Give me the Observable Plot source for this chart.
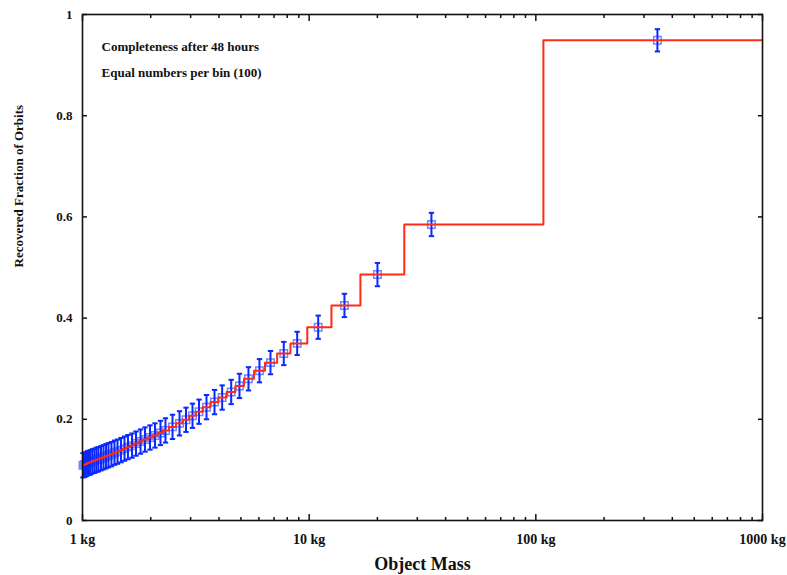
<!DOCTYPE html>
<html><head><meta charset="utf-8">
<script src="https://cdn.jsdelivr.net/npm/d3@7"></script>
<script src="https://cdn.jsdelivr.net/npm/@observablehq/plot@0.6"></script>
<style>body{margin:0;background:#fff}</style>
</head><body><div id="chart"></div>
<script>
// Bin mean masses (kg) where the points sit
const pointMass = [1.005,1.020,1.036,1.052,1.068,1.085,1.107,1.130,1.153,1.176,
  1.207,1.238,1.270,1.302,1.342,1.384,1.427,1.478,1.532,1.587,
  1.654,1.722,1.803,1.887,1.985,2.088,2.208,2.323,2.495,2.679,
  2.862,3.057,3.266,3.524,3.823,4.132,4.529,4.926,5.398,6.036,
  6.751,7.726,8.853,10.96,14.31,20.01,34.63,343.9];
// Recovered fraction per bin
const pointValue = [0.109,0.110,0.111,0.113,0.114,0.115,0.117,0.118,0.120,0.121,
  0.123,0.125,0.127,0.129,0.131,0.134,0.136,0.139,0.142,0.145,
  0.148,0.152,0.156,0.160,0.164,0.168,0.173,0.178,0.185,0.192,
  0.199,0.207,0.215,0.224,0.234,0.243,0.254,0.266,0.280,0.296,
  0.312,0.330,0.350,0.382,0.425,0.486,0.585,0.949];
// Error bar half-lengths
const pointError = [0.024,0.024,0.024,0.024,0.024,0.024,0.024,0.024,0.024,0.024,
  0.024,0.024,0.024,0.024,0.024,0.024,0.024,0.024,0.024,0.024,
  0.024,0.024,0.024,0.024,0.024,0.024,0.024,0.024,0.024,0.024,
  0.024,0.024,0.024,0.024,0.024,0.024,0.024,0.024,0.023,0.023,
  0.023,0.023,0.023,0.023,0.023,0.023,0.023,0.022];
// Bin edges (kg): lower edge of each bin, then the final upper edge
const binEdges = [1,1.0128,1.0283,1.0441,1.0601,1.0764,1.0957,1.1182,1.1411,1.1646,1.1915,
  1.2222,1.2536,1.2858,1.3222,1.3632,1.4054,1.4526,1.5051,1.5596,1.6200,
  1.6871,1.7618,1.8442,1.9355,2.0362,2.1476,2.2651,2.4074,2.5853,2.7684,
  2.9581,3.1596,3.3912,3.6697,3.9762,4.3255,4.7258,5.1583,5.7080,6.3830,
  7.22,8.27,9.81,12.54,16.83,26.28,108.0,1000];

const xMajorTicks = [1,10,100,1000];
const xTickLabels = ["1 kg","10 kg","100 kg","1000 kg"];
const xMinorTicks = [2,3,4,5,6,7,8,9,20,30,40,50,60,70,80,90,200,300,400,500,600,700,800,900];
const yTicks = [0,0.2,0.4,0.6,0.8,1];
const yTickLabels = ["0","0.2","0.4","0.6","0.8","1"];
const notes = ["Completeness after 48 hours","Equal numbers per bin (100)"];
const xTitle = "Object Mass";
const yTitle = "Recovered Fraction of Orbits";

const points = pointMass.map((m,i)=>({m, v: pointValue[i], lo: pointValue[i]-pointError[i], hi: pointValue[i]+pointError[i]}));
const steps = binEdges.map((m,i)=>({m, v: pointValue[Math.min(i, pointValue.length-1)]}));
const caps = points.flatMap(p=>[{m:p.m, v:p.lo},{m:p.m, v:p.hi}]);

const capSymbol = {draw(ctx, size){const w = Math.sqrt(size)/2; ctx.moveTo(-w,0); ctx.lineTo(w,0);}};

const blue = "#0a28ff";
const chart = Plot.plot({
  width: 787, height: 575,
  marginLeft: 82, marginRight: 25, marginTop: 14, marginBottom: 55,
  style: {fontFamily: "'Liberation Serif', 'DejaVu Serif', serif", fontWeight: "bold", background: "#fff"},
  x: {type: "log", domain: [1, 1000]},
  y: {domain: [0, 1]},
  marks: [
    Plot.dot(points, {x: "m", y: "v", symbol: "square", r: 4.2, stroke: "#6f88ff", strokeWidth: 1.5, fill: "none"}),
    Plot.ruleX(points, {x: "m", y1: "lo", y2: "hi", stroke: blue, strokeWidth: 2}),
    Plot.dot(caps, {x: "m", y: "v", symbol: capSymbol, r: 3.0, stroke: blue, strokeWidth: 2, fill: "none"}),
    Plot.line(steps, {x: "m", y: "v", curve: "step-after", stroke: "#ff2a18", strokeWidth: 2}),
    Plot.frame({stroke: "#111", strokeWidth: 1.6}),
    // tick labels
    Plot.axisY({anchor: "left", ticks: yTicks, tickSize: 0, tickPadding: 10, tickFormat: d=>yTickLabels[yTicks.indexOf(d)], fontSize: 13, color: "#111", label: null}),
    Plot.axisX({anchor: "bottom", ticks: xMajorTicks, tickSize: 0, tickPadding: 14, tickFormat: d=>xTickLabels[xMajorTicks.indexOf(d)], fontSize: 14, color: "#111", label: null}),
    // inward ticks
    Plot.axisY({anchor: "left", ticks: yTicks, tickSize: 5, dx: 5, tickFormat: ()=>"", color: "#111", strokeWidth: 1.5, label: null}),
    Plot.axisY({anchor: "right", ticks: yTicks, tickSize: 5, dx: -5, tickFormat: ()=>"", color: "#111", strokeWidth: 1.5, label: null}),
    Plot.axisX({anchor: "bottom", ticks: xMajorTicks, tickSize: 6, dy: -6, tickFormat: ()=>"", color: "#111", strokeWidth: 1.5, label: null}),
    Plot.axisX({anchor: "bottom", ticks: xMinorTicks, tickSize: 3, dy: -3, tickFormat: ()=>"", color: "#111", strokeWidth: 1.5, label: null}),
    Plot.axisX({anchor: "top", ticks: xMajorTicks, tickSize: 6, dy: 6, tickFormat: ()=>"", color: "#111", strokeWidth: 1.5, label: null}),
    Plot.axisX({anchor: "top", ticks: xMinorTicks, tickSize: 3, dy: 3, tickFormat: ()=>"", color: "#111", strokeWidth: 1.5, label: null}),
    // annotations
    Plot.text([notes[0]], {frameAnchor: "top-left", dx: 19, dy: 27, textAnchor: "start", fontSize: 13, fill: "#111"}),
    Plot.text([notes[1]], {frameAnchor: "top-left", dx: 19, dy: 53, textAnchor: "start", fontSize: 13, fill: "#111"}),
    Plot.text([xTitle], {frameAnchor: "bottom", dy: 49, fontSize: 18, fill: "#111"}),
    Plot.text([yTitle], {frameAnchor: "left", dx: -64, rotate: -90, fontSize: 13, fill: "#111"})
  ]
});
document.getElementById("chart").appendChild(chart);
</script>
</body></html>
